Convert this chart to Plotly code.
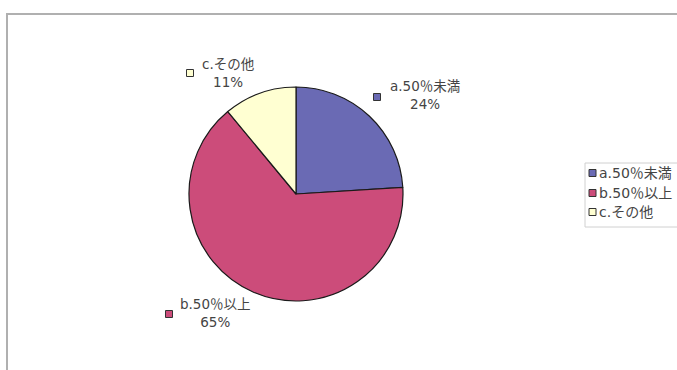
import plotly.graph_objects as go

# Share of respondents by category
categories = ["a.50％未満", "b.50％以上", "c.その他"]
shares = [24, 65, 11]
colors = ["#6a6ab4", "#cc4c7a", "#ffffd2"]

W, H = 677, 370


def px(x):
    return x / W


def py(y):
    return 1 - y / H


cx, cy, r = 296, 194, 107

fig = go.Figure(
    go.Pie(
        labels=categories,
        values=shares,
        sort=False,
        direction="clockwise",
        rotation=0,
        marker=dict(colors=colors, line=dict(color="#1a1a1a", width=1.2)),
        textinfo="none",
        hoverinfo="label+percent",
        domain=dict(x=[px(cx - r), px(cx + r)], y=[py(cy + r), py(cy - r)]),
        showlegend=False,
    )
)

font_family = "DejaVu Sans, Noto Sans CJK JP, sans-serif"
label_font = dict(family=font_family, size=13.5, color="#444444")
legend_font = dict(family=font_family, size=14, color="#444444")

# outside labels: (centre x, centre y of both lines, marker x, marker y)
label_pos = [(425, 95, 377, 97), (215, 313, 169, 314), (228, 73, 190, 73)]

annotations = []
shapes = []


def square(x, y, col, half=3.5):
    return dict(
        type="rect", xref="paper", yref="paper",
        x0=px(x - half), x1=px(x + half), y0=py(y + half), y1=py(y - half),
        fillcolor=col, line=dict(color="#333333", width=1),
    )


for name, val, col, (tx, ty, mx, my) in zip(categories, shares, colors, label_pos):
    annotations.append(
        dict(
            x=px(tx), y=py(ty), xref="paper", yref="paper",
            xanchor="center", yanchor="middle", align="center",
            text=f"{name}<br>{val}%", showarrow=False, font=label_font,
            borderpad=0,
        )
    )
    shapes.append(square(mx, my, col))

# legend box with swatches
legend_rows = [173, 193, 212]
shapes.append(
    dict(
        type="rect", xref="paper", yref="paper",
        x0=px(585), x1=px(720), y0=py(227), y1=py(163),
        line=dict(color="#d0d0d0", width=1), fillcolor="rgba(0,0,0,0)",
    )
)
for name, col, ry in zip(categories, colors, legend_rows):
    shapes.append(square(592.5, ry, col))
    annotations.append(
        dict(
            x=px(598), y=py(ry), xref="paper", yref="paper",
            xanchor="left", yanchor="middle",
            text=name, showarrow=False, font=legend_font, borderpad=0,
        )
    )

# chart area frame
shapes.append(
    dict(
        type="rect", xref="paper", yref="paper",
        x0=px(7), x1=px(720), y0=py(420), y1=py(14),
        line=dict(color="#b0b0b0", width=2), fillcolor="rgba(0,0,0,0)", layer="below",
    )
)

fig.update_layout(
    width=W, height=H,
    margin=dict(l=0, r=0, t=0, b=0),
    paper_bgcolor="white",
    annotations=annotations,
    shapes=shapes,
    showlegend=False,
)

fig.write_html("out.html")
